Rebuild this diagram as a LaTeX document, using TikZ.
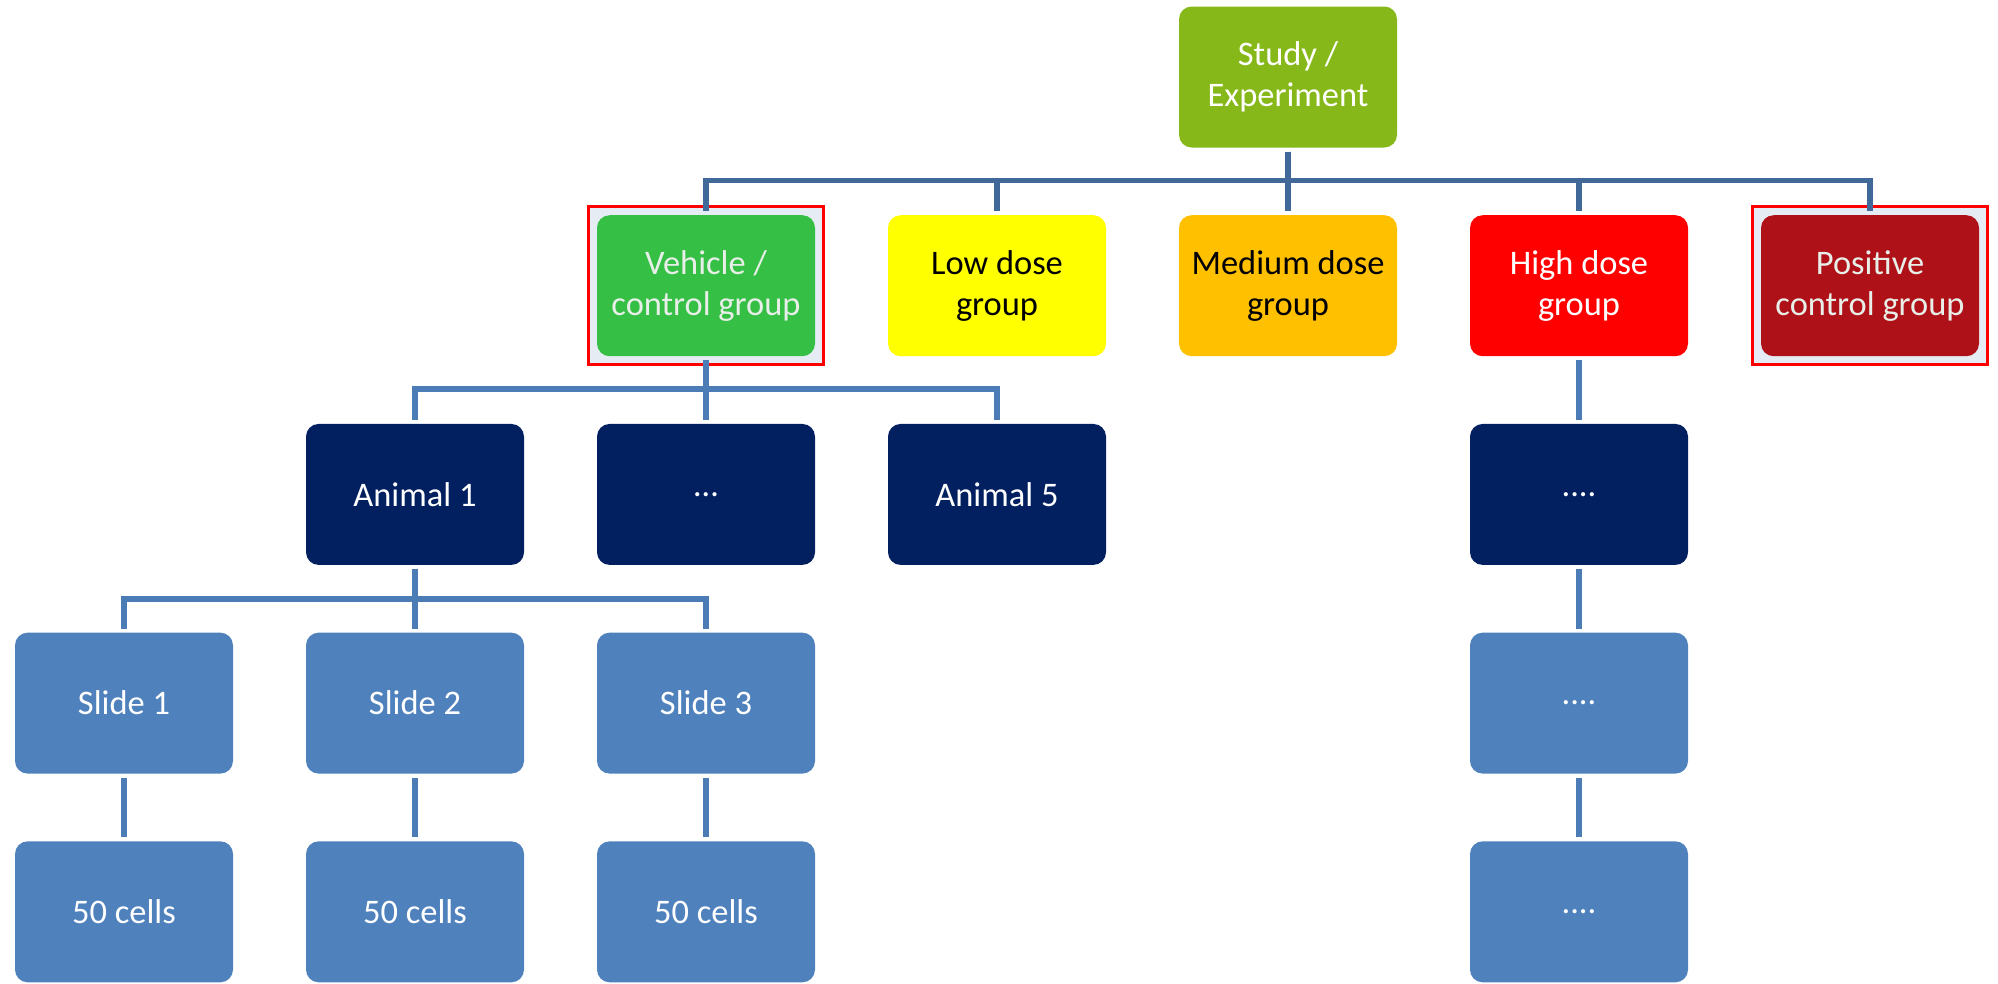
\documentclass[tikz,border=0pt]{standalone}
\usepackage{fontspec}
\setmainfont{Carlito}
\usetikzlibrary{positioning,calc,fit,backgrounds}
\definecolor{cStudy}{RGB}{134,184,25}
\definecolor{cVeh}{RGB}{53,191,69}
\definecolor{cLow}{RGB}{255,255,0}
\definecolor{cMed}{RGB}{255,192,0}
\definecolor{cHigh}{RGB}{255,0,0}
\definecolor{cPos}{RGB}{175,17,24}
\definecolor{cAnimal}{RGB}{2,32,96}
\definecolor{cSlide}{RGB}{79,129,189}
\definecolor{cLine}{RGB}{64,104,152}
\definecolor{cLineB}{RGB}{76,124,182}
\definecolor{cFrame}{RGB}{230,236,244}
\definecolor{cPale}{RGB}{232,238,232}

\begin{document}
\begin{tikzpicture}[x=1cm,y=1cm,
   box/.style={rounded corners=3.6pt,minimum width=2.18cm,minimum height=1.41cm,
     inner sep=0pt,outer sep=0.04cm,align=center,text=white,
     font=\fontsize{9.8}{11.6}\selectfont},
   frame/.style={draw=red,line width=0.85pt,fill=cFrame,inner sep=0.045cm},
   link/.style={draw=cLine,line width=1.6pt},
   linkb/.style={draw=cLineB,line width=1.6pt}]
 \useasboundingbox (0,0) rectangle (19.98,-9.83);
 % column x = 1.24 + 2.91*i ; row y = -(0.77 + 2.087*j)
 \pgfmathsetmacro{\ya}{-0.77}
 \pgfmathsetmacro{\yb}{-0.77-2.087}
 \pgfmathsetmacro{\yc}{-0.77-2*2.087}
 \pgfmathsetmacro{\yd}{-0.77-3*2.087}
 \pgfmathsetmacro{\ye}{-0.77-4*2.087}
 % top
 \node[box,fill=cStudy] (study) at (1.24+4*2.91,\ya) {Study /\\Experiment};
 % dose groups
 \node[box,fill=cVeh,text=cPale] (veh) at (1.24+2*2.91,\yb) {Vehicle /\\control group};
 \node[box,fill=cLow,text=black] (low) at (1.24+3*2.91,\yb) {Low dose\\group};
 \node[box,fill=cMed,text=black] (med) at (1.24+4*2.91,\yb) {Medium dose\\group};
 \node[box,fill=cHigh] (high) at (1.24+5*2.91,\yb) {High dose\\group};
 \node[box,fill=cPos,text=cPale] (pos) at (1.24+6*2.91,\yb) {Positive\\control group};
 % animals
 \node[box,fill=cAnimal] (ani1) at (1.24+1*2.91,\yc) {Animal 1};
 \node[box,fill=cAnimal] (aniX) at (1.24+2*2.91,\yc) {…};
 \node[box,fill=cAnimal] (ani5) at (1.24+3*2.91,\yc) {Animal 5};
 \node[box,fill=cAnimal] (hiAni) at (1.24+5*2.91,\yc) {....};
 % slides and cells
 \foreach \k in {1,2,3} {
   \node[box,fill=cSlide] (sl\k) at (1.24+\k*2.91-2.91,\yd) {Slide \k};
   \node[box,fill=cSlide] (cel\k) at (1.24+\k*2.91-2.91,\ye) {50 cells};
 }
 \node[box,fill=cSlide] (hiSl) at (1.24+5*2.91,\yd) {....};
 \node[box,fill=cSlide] (hiCel) at (1.24+5*2.91,\ye) {....};
 % highlight frames
 \begin{scope}[on background layer]
   \node[frame,fit=(veh)] (vehFrame) {};
   \node[frame,fit=(pos)] (posFrame) {};
 \end{scope}
 % connectors
 \foreach \c in {veh,low,med,high,pos}
   \draw[link] (study.south) -- ++(0,-0.29) -| (\c.north);
 \foreach \c in {ani1,aniX,ani5}
   \draw[linkb] (veh.south) -- ++(0,-0.29) -| (\c.north);
 \foreach \k in {1,2,3} {
   \draw[linkb] (ani1.south) -- ++(0,-0.30) -| (sl\k.north);
   \draw[linkb] (sl\k) -- (cel\k);
 }
 \draw[linkb] (high) -- (hiAni);
 \draw[linkb] (hiAni) -- (hiSl);
 \draw[linkb] (hiSl) -- (hiCel);
\end{tikzpicture}
\end{document}
